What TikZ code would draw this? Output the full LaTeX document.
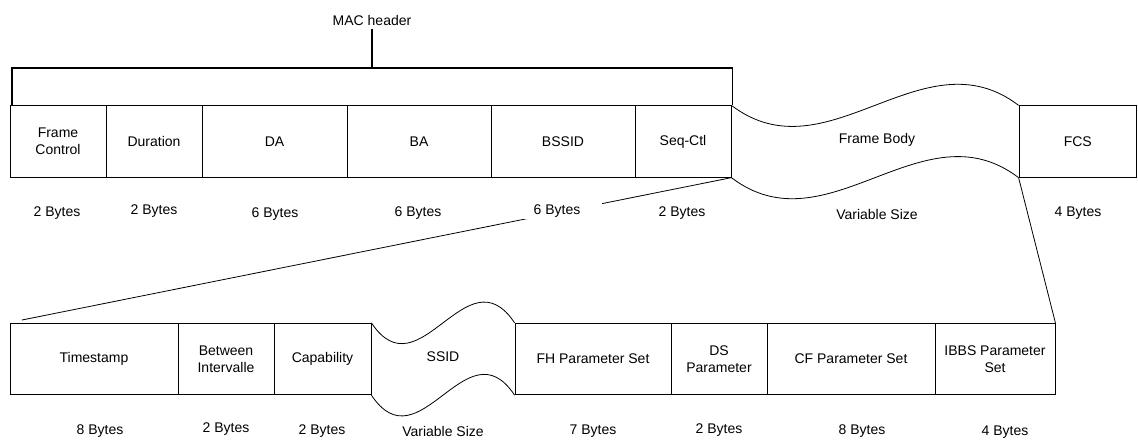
\documentclass[tikz,border=0pt]{standalone}
\usepackage{fontspec}
\setmainfont{Liberation Sans}
\usetikzlibrary{positioning}

\begin{document}
\begin{tikzpicture}[x=1pt,y=-1pt,
		field/.style={draw, line width=0.8pt, minimum height=71.5pt, inner sep=0pt,
			align=center, font=\fontsize{14}{17}\selectfont},
		wave/.style={line width=0.8pt},
		brace/.style={line width=1.8pt},
		zoomline/.style={line width=0.8pt},
		ftxt/.style={font=\fontsize{14}{17}\selectfont, align=center},
		blab/.style={font=\fontsize{14}{17}\selectfont, inner sep=1pt}
	]
		\useasboundingbox (0,0) rectangle (1138,440);
		% MAC frame
		\node[field, minimum width=96pt] (fc) at (58,141.5) {Frame\\Control};
		\node[field, minimum width=96pt] (dur) at (154,141.5) {Duration};
		\node[field, minimum width=145pt] (da) at (274.5,141.5) {DA};
		\node[field, minimum width=144pt] (ba) at (419,141.5) {BA};
		\node[field, minimum width=144pt] (bssid) at (563,141.5) {BSSID};
		\node[field, minimum width=96pt] (seqctl) at (683,141.5) {Seq-Ctl};
		\node[field, minimum width=117.5pt] (fcs) at (1077.75,141.5) {FCS};
		\node[ftxt] (body) at (877,140) {Frame Body};
		\draw[wave] (seqctl.north east) .. controls +(96,73) and +(-96,-73) .. (fcs.north west);
		\draw[wave] (seqctl.south east) .. controls +(96,73) and +(-96,-73) .. (fcs.south west);
		% MAC header bracket
		\node[ftxt] (machdr) at (372,20) {MAC header};
		\coordinate (macjoin) at (372,68);
		\draw[brace] (machdr.south) -- (macjoin);
		\draw[brace] ([xshift=2pt]fc.north west) |- (macjoin) -| ([xshift=1pt]seqctl.north east);
		% frame body fields
		\node[field, minimum width=168pt] (ts) at (94,359) {Timestamp};
		\node[field, minimum width=96pt] (bi) at (226,359) {Between\\Intervalle};
		\node[field, minimum width=97pt] (cap) at (322.5,359) {Capability};
		\node[field, minimum width=156pt] (fh) at (593,359) {FH Parameter Set};
		\node[field, minimum width=96pt] (ds) at (719,359) {DS\\Parameter};
		\node[field, minimum width=168pt] (cf) at (851,359) {CF Parameter Set};
		\node[field, minimum width=120pt] (ibbs) at (995,359) {IBBS Parameter\\Set};
		\node[ftxt] (ssid) at (443,357) {SSID};
		\draw[wave] (cap.north east) .. controls +(48,72) and +(-48,-72) .. (fh.north west);
		\draw[wave] (cap.south east) .. controls +(48,72) and +(-48,-72) .. (fh.south west);
		% zoom lines
		\coordinate (tsjoin) at (22,320);
		\draw[zoomline] (seqctl.south east) -- (tsjoin);
		\draw[zoomline] (fcs.south west) -- (ibbs.north east);
		% sizes
		\node[blab] (fcsize) at (57,213) {2 Bytes};
		\node[blab] (dursize) at (154,211) {2 Bytes};
		\node[blab] (dasize) at (275,214) {6 Bytes};
		\node[blab] (basize) at (418,213) {6 Bytes};
		\node[blab, fill=white, inner xsep=22pt, inner ysep=1.5pt] (bssidsize) at (557,211) {6 Bytes};
		\node[blab] (seqsize) at (682,213) {2 Bytes};
		\node[blab] (bodysize) at (877,214) {Variable Size};
		\node[blab] (fcssize) at (1078,213) {4 Bytes};
		\node[blab] (tssize) at (100,431) {8 Bytes};
		\node[blab] (bisize) at (226,429) {2 Bytes};
		\node[blab] (capsize) at (322,431) {2 Bytes};
		\node[blab] (ssidsize) at (443,431) {Variable Size};
		\node[blab] (fhsize) at (593,431) {7 Bytes};
		\node[blab] (dssize) at (719,430) {2 Bytes};
		\node[blab] (cfsize) at (862,431) {8 Bytes};
		\node[blab] (ibbssize) at (1005,432) {4 Bytes};
	\end{tikzpicture}
\end{document}
